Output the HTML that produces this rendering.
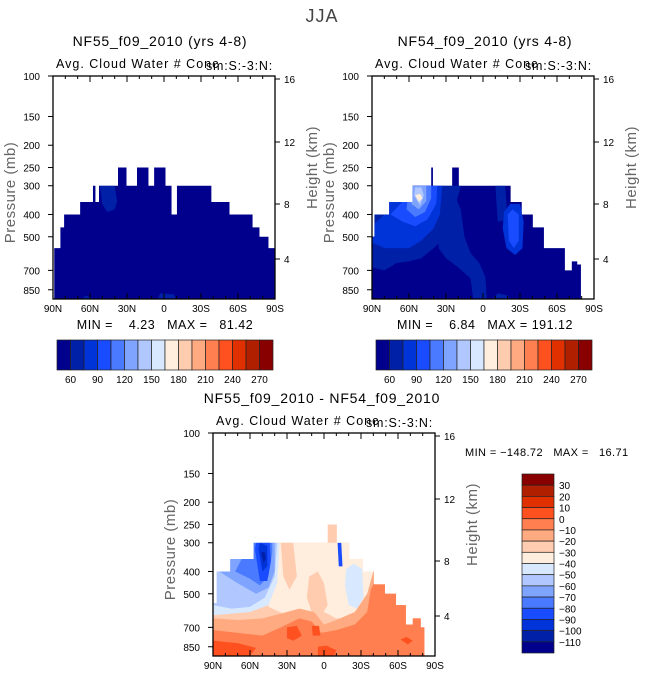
<!DOCTYPE html>
<html><head><meta charset="utf-8"><style>
body{margin:0;background:#fff;}
svg{display:block;font-family:"Liberation Sans",sans-serif;}
text{white-space:pre;}
</style></head><body>
<svg id="s" width="645" height="680">
<text x="322" y="22" font-size="18" text-anchor="middle" fill="#444" letter-spacing="1">JJA</text>
</svg>
<script>
const NS='http://www.w3.org/2000/svg';
const svg=document.getElementById('s');
const PAL=['#00008c','#0020a8','#0033d8','#1a4cff','#4a7aff','#7fa4ff','#b0c8ff','#d8e8ff','#ffeedd','#ffccb0','#ffaa80','#ff7f50','#ff5020','#e03000','#b02000','#880000'];
const pTicks=[100,150,200,250,300,400,500,700,850];
const hTicks=[16,12,8,4];
const hPos=[79,142,204,259];
const latTicks=[90,60,30,0,-30,-60,-90];
const latLabels=['90N','60N','30N','0','30S','60S','90S'];
const cbLabels1=['60','90','120','150','180','210','240','270'];
const cbLabels3=['30','20','10','0','-10','-20','-30','-40','-50','-60','-70','-80','-90','-100','-110'];
const mask1=[[89,84,560],[84,81,455],[81,68,400],[68,57.6,353],[57.6,56,300],[56,52.7,353],[52.7,37.3,300],[37.3,30.8,250],[30.8,21.9,300],[21.9,13,250],[13,8,300],[8,-0.8,250],[-0.8,-5.7,300],[-5.7,-10.5,400],[-10.5,-38,300],[-38,-52.7,353],[-52.7,-71.4,400],[-71.4,-77,455],[-77,-84.3,500],[-84.3,-90,560]];
const mask2=[[90,88,500],[88,76,400],[76,57,353],[57,42,300],[42,41,250],[41,25,300],[25,20,250],[20,-22,300],[-22,-31,353],[-31,-40,400],[-40,-49,455],[-49,-66,560],[-66,-72,700],[-72,-76,640],[-76,-79,660]];
const mask3=[[90,87,550],[87,76,400],[76,57,353],[57,-3,300],[-3,-10,250],[-10,-20,300],[-20,-31,353],[-31,-40,400],[-40,-49,455],[-49,-58,500],[-58,-66,560],[-66,-72,680],[-72,-78,640],[-78,-81,700]];
const feat1=[[1,[[52,300],[40,300],[38,350],[40,380],[46,390],[50,360]]],[1,[[67,930],[63,900],[58,930]]],[1,[[5,930],[3,880],[-8,890],[-10,930]]]];
const feat2=[
[1,[[90,300],[90,680],[80,700],[70,650],[60,640],[50,620],[40,560],[30,500],[25,400],[20,330],[18,300]]],
[1,[[-3,930],[-2,750],[3,650],[10,590],[15,500],[18,380],[22,340],[32,330],[36,400],[36,560],[30,620],[20,680],[10,760],[8,930]]],
[1,[[-8,930],[-12,880],[-20,900],[-22,930]]],
[1,[[-10,300],[-18,300],[-20,420],[-12,430]]],
[2,[[90,530],[80,560],[70,560],[60,560],[50,520],[40,460],[35,400],[33,300],[70,300],[80,400],[90,450]]],
[2,[[-17,390],[-22,360],[-30,360],[-33,430],[-32,560],[-26,600],[-19,560],[-16,460]]],
[3,[[75,400],[65,430],[55,450],[45,420],[38,360],[37,300],[62,300],[65,350]]],
[3,[[-20,400],[-24,380],[-29,400],[-29,520],[-25,560],[-21,520]]],
[4,[[62,380],[55,410],[47,390],[42,340],[42,300],[60,300]]],
[5,[[58,360],[52,380],[46,350],[46,300],[58,300]]],
[6,[[56,330],[51,365],[48,330],[50,305],[55,305]]],
[8,[[55,330],[52,352],[49,340],[51,325]]]];
const feat3=[
[8,[[40,300],[-30,300],[-40,380],[-40,560],[-30,640],[-10,640],[0,600],[10,600],[30,620],[45,570]]],
[9,[[12,420],[5,400],[0,450],[-3,560],[2,620],[10,600],[14,520]]],
[9,[[35,300],[25,300],[22,420],[28,480],[33,420]]],
[7,[[90,520],[90,620],[75,610],[60,600],[45,560],[38,450],[36,300],[90,300]]],
[6,[[90,560],[75,580],[60,570],[48,520],[40,420],[38,300],[90,300]]],
[7,[[-18,390],[-24,370],[-31,390],[-32,520],[-27,580],[-20,560],[-17,460]]],
[5,[[85,400],[70,450],[55,500],[45,470],[40,400],[40,300],[62,300],[75,350]]],
[4,[[72,400],[60,430],[52,460],[45,420],[42,330],[42,300],[60,300]]],
[3,[[56,320],[52,440],[46,440],[43,360],[44,300],[55,300]]],
[2,[[53,320],[50,400],[46,380],[46,310],[52,300]]],
[1,[[51,330],[49,370],[47,350],[48,330]]],
[3,[[-11,300],[-14,300],[-15,380],[-12,380]]],
[10,[[90,640],[70,650],[50,640],[35,610],[20,580],[8,600],[0,680],[-10,650],[-25,600],[-35,500],[-40,400],[-45,330],[-90,330],[-90,930],[90,930]]],
[11,[[90,720],[70,740],[50,760],[35,700],[20,640],[10,660],[2,740],[-10,720],[-25,680],[-35,600],[-38,480],[-45,400],[-90,400],[-90,930],[90,930]]],
[12,[[90,800],[70,820],[55,860],[60,930],[90,930]]],
[12,[[30,700],[22,690],[18,760],[25,800],[30,780]]],
[12,[[10,690],[4,690],[3,760],[9,760]]],
[12,[[5,850],[-2,840],[-10,880],[-8,930],[5,930]]],
[12,[[-62,790],[-67,770],[-72,800],[-68,830]]]];
function el(tag,attrs,parent){const e=document.createElementNS(NS,tag);for(const k in attrs)e.setAttribute(k,attrs[k]);(parent||svg).appendChild(e);return e;}
function txt(x,y,s,size,anchor,fill,parent,ls){const t=el('text',{x:x,y:y,'font-size':size,'text-anchor':anchor||'start',fill:fill||'#000'},parent);if(ls)t.setAttribute('letter-spacing',ls);t.textContent=s;return t;}
function plot(id,x0,y0,mask,feats,base){
 const W=222,H=223;
 const X=lat=>x0+(90-lat)/180*W;
 const Y=p=>Math.min(y0+H,y0+(Math.log10(p)-2)*230);
 const g=el('g',{});
 
 
 const cp=el('clipPath',{id:'c'+id},g);
 mask.forEach(m=>{el('rect',{x:X(m[0]),y:Y(m[2]),width:X(m[1])-X(m[0])+0.5,height:y0+H-Y(m[2])},cp);});
 const f=el('g',{'clip-path':'url(#c'+id+')'},g);
 
 
 el('rect',{x:x0,y:y0,width:W,height:H,fill:PAL[base]},f);
 feats.forEach(ft=>{const pl=el('polygon',{points:ft[1].map(q=>X(q[0])+','+Y(q[1])).join(' '),fill:PAL[ft[0]]},f);
  
  });
 const fr=el('rect',{x:x0,y:y0,width:W,height:H,fill:'none',stroke:'#000','stroke-width':1.3},g);
 
 
 pTicks.forEach(p=>{const y=Y(p);el('line',{x1:x0,x2:x0-5,y1:y,y2:y,stroke:'#000'},g);txt(x0-13,y+4,String(p),10,'end','#000',g);});
 hTicks.forEach((h,i)=>{const y=y0+(hPos[i]-76);el('line',{x1:x0+W,x2:x0+W+5,y1:y,y2:y,stroke:'#000'},g);txt(x0+W+9,y+4,String(h),10,'start','#000',g);});
 for(let l=90;l>=-90;l-=10){const x=X(l),len=(l%30===0)?6:3;
  el('line',{x1:x,x2:x,y1:y0,y2:y0+len,stroke:'#000'},g);el('line',{x1:x,x2:x,y1:y0+H,y2:y0+H-len,stroke:'#000'},g);}
 latTicks.forEach((l,i)=>txt(X(l),y0+H+13,latLabels[i],10,'middle','#000',g));
 const yl=txt(0,0,'Pressure (mb)',15,'middle','#666',g,'0.5');
 yl.setAttribute('transform','translate('+(x0-38)+','+(y0+H/2+5)+') rotate(-90)');
 
 const hl=txt(0,0,'Height (km)',15,'middle','#666',g,'0.5');
 hl.setAttribute('transform','translate('+(x0+W+42)+','+(y0+H/2-20)+') rotate(-90)');
 
 txt(x0+3,y0-8,'Avg. Cloud Water # Conc',12.5,'start','#000',g,'1');
 txt(x0+W-2,y0-6,'sm:S:-3:N:',12.5,'end','#000',g,'0.8');
}
plot('nf55',53,76,mask1,feat1,0);
plot('nf54',372,76,mask2,feat2,0);
plot('diff',213,433,mask3,feat3,9);
txt(160,46,'NF55_f09_2010 (yrs 4-8)',14,'middle','#000',svg,'0.8');
txt(485,46,'NF54_f09_2010 (yrs 4-8)',14,'middle','#000',svg,'0.8');
txt(322,403,'NF55_f09_2010 - NF54_f09_2010',14,'middle','#000',svg,'0.8');
txt(165,329,'MIN =    4.23   MAX =   81.42',12.5,'middle','#000',svg,'0.5');
txt(485,329,'MIN =    6.84   MAX = 191.12',12.5,'middle','#000',svg,'0.5');
txt(465,456,'MIN = \u2212148.72   MAX =   16.71',11,'start','#000',svg,'0.4');
function hbar(id,x0){const g=el('g',{});
 const w=13.5;PAL.forEach((c,i)=>el('rect',{x:x0+i*w,y:340,width:w,height:30,fill:c,stroke:'#222','stroke-width':0.7},g));
 cbLabels1.forEach((s,i)=>txt(x0+(2*i+1)*w,383,s,10,'middle','#000',g));}
hbar('nf55',57);hbar('nf54',376);
(function(){const g=el('g',{});
 const h=179/16;PAL.slice().reverse().forEach((c,i)=>el('rect',{x:522,y:474+i*h,width:32,height:h,fill:c,stroke:'#222','stroke-width':0.7},g));
 cbLabels3.forEach((s,i)=>txt(559,474+(i+1)*h+4,s.replace('-','\u2212'),10,'start','#000',g));})();
</script>
</body></html>
